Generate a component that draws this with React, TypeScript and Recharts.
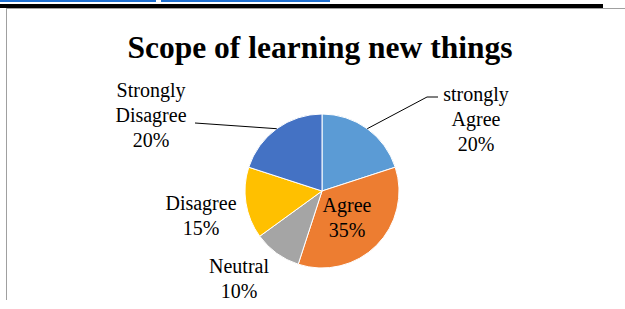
import React from 'react';
import { PieChart, Pie, Cell } from 'recharts';

const categories = ['strongly Agree', 'Agree', 'Neutral', 'Disagree', 'Strongly Disagree'];
const shares = [20, 35, 10, 15, 20];
const COLORS = ['#5B9BD5', '#ED7D31', '#A5A5A5', '#FFC000', '#4472C4'];

const data = categories.map((name, i) => ({ name, value: shares[i] }));

// label placement relative to the pie centre (Excel "best fit" look)
const LABEL_POS: Record<string, { dx: number; dy: number; lines: string[] }> = {
  'strongly Agree': { dx: 154, dy: -90, lines: ['strongly', 'Agree'] },
  Agree: { dx: 25, dy: 21, lines: ['Agree'] },
  Neutral: { dx: -83, dy: 82, lines: ['Neutral'] },
  Disagree: { dx: -121, dy: 19, lines: ['Disagree'] },
  'Strongly Disagree': { dx: -171, dy: -94, lines: ['Strongly', 'Disagree'] },
};

const FONT = "'Liberation Serif', 'Times New Roman', serif";
const RAD = Math.PI / 180;

const renderLabel = (props: any) => {
  const { cx, cy, midAngle, outerRadius, name, percent } = props;
  const pos = LABEL_POS[name];
  if (!pos) return null;
  const x = cx + pos.dx;
  const lines = [...pos.lines, `${Math.round(percent * 100)}%`];
  const ax = cx + outerRadius * Math.cos(-midAngle * RAD);
  const ay = cy + outerRadius * Math.sin(-midAngle * RAD);
  let leader = null;
  if (name === 'strongly Agree') {
    leader = (
      <polyline
        points={`${ax},${ay} ${cx + 105},${cy - 94} ${cx + 116},${cy - 94}`}
        fill="none"
        stroke="#000"
        strokeWidth={1}
      />
    );
  } else if (name === 'Strongly Disagree') {
    leader = <line x1={ax} y1={ay} x2={cx - 127} y2={cy - 68} stroke="#000" strokeWidth={1} />;
  }
  return (
    <g>
      {leader}
      <text x={x} y={cy + pos.dy} textAnchor="middle" fontFamily={FONT} fontSize={20} fill="#000">
        {lines.map((l, i) => (
          <tspan key={i} x={x} dy={i === 0 ? 0 : 25}>
            {l}
          </tspan>
        ))}
      </text>
    </g>
  );
};

export default function App() {
  return (
    <div style={{ position: 'fixed', top: 0, left: 0, width: 625, height: 309, background: '#fff' }}>
      <svg width={625} height={309} style={{ position: 'absolute', top: 0, left: 0 }}>
        <rect x={0} y={0} width={156} height={2} fill="#1F6FCF" />
        <rect x={161} y={0} width={169} height={2} fill="#1F6FCF" />
        <rect x={0} y={4} width={603} height={4} fill="#000" />
        <rect x={6} y={8} width={619} height={1} fill="#A0A0A0" />
        <rect x={6} y={8} width={1} height={292} fill="#A0A0A0" />
        <text x={320} y={58} textAnchor="middle" fontFamily={FONT} fontWeight="bold" fontSize={31.5} fill="#000">
          Scope of learning new things
        </text>
      </svg>
      <div style={{ position: 'absolute', top: 0, left: 0 }}>
        <PieChart width={625} height={309} margin={{ top: 0, right: 0, bottom: 0, left: 0 }}>
          <Pie
            data={data}
            dataKey="value"
            nameKey="name"
            cx={322}
            cy={191}
            outerRadius={77}
            startAngle={90}
            endAngle={-270}
            stroke="#fff"
            strokeWidth={1}
            label={renderLabel}
            labelLine={false}
            isAnimationActive={false}
          >
            {data.map((d, i) => (
              <Cell key={d.name} fill={COLORS[i]} />
            ))}
          </Pie>
        </PieChart>
      </div>
    </div>
  );
}
